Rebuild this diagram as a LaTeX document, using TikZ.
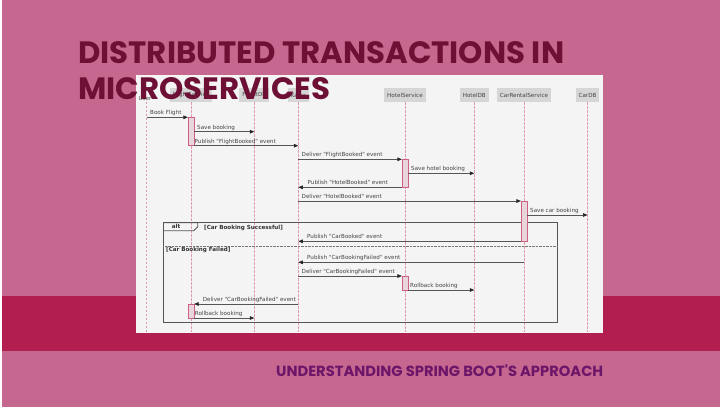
\documentclass[tikz,border=0pt]{standalone}
\usepackage{fontspec}
\usepackage{graphicx}
\usetikzlibrary{arrows.meta}
\newfontfamily\poppins{Poppins}
\newfontfamily\dv{DejaVu Sans}
\definecolor{bgpink}{HTML}{C5678E}
\definecolor{bandc}{HTML}{B21E50}
\definecolor{panelc}{HTML}{F4F4F4}
\definecolor{titlec}{HTML}{6E0F36}
\definecolor{subc}{HTML}{6C1569}
\definecolor{partc}{HTML}{D6D6D6}
\definecolor{lifec}{HTML}{E09AAE}
\definecolor{actfill}{HTML}{E8D6DC}
\definecolor{actdraw}{HTML}{D0607F}
\definecolor{msgc}{HTML}{555555}
\definecolor{labc}{HTML}{444444}
\tikzset{
  part/.style={fill=partc, draw=none, minimum height=14pt, inner xsep=3pt, inner ysep=0pt, font=\dv\fontsize{5.6}{6}\selectfont, text=labc},
  life/.style={lifec, line width=0.5pt, dash pattern=on 2.4pt off 1.6pt},
  act/.style={fill=actfill, draw=actdraw, line width=0.6pt, minimum width=5.6pt, inner sep=0pt},
  msg/.style={msgc, line width=0.7pt, -{Triangle[length=4.5pt,width=3.6pt,fill=black!85,color=black!85]}},
  lab/.style={anchor=base west, inner sep=0pt, font=\dv\fontsize{5.6}{6}\selectfont, text=labc},
  blab/.style={anchor=base west, inner sep=0pt, font=\dv\bfseries\fontsize{5.6}{6}\selectfont, text=black!80},
  framec/.style={draw=msgc, line width=0.9pt},
}
\begin{document}
\begin{tikzpicture}[x=1pt,y=-1pt]
\useasboundingbox (0,0) rectangle (720,408);
% background
\fill[white] (0,0) rectangle (720,408);
\fill[bgpink] (1.6,0) rectangle (720,406.6);
\fill[bandc] (1.6,295.7) rectangle (720,351);
% panel
\fill[panelc] (136,75) rectangle (603.3,333.3);
% participants
\node[part] (fs) at (191,95) {FlightService};
\node[part] (fdb) at (254.3,95) {FlightDB};
\node[part] (kf) at (298.3,95) {Kafka};
\node[part] (hs) at (405,95) {HotelService};
\node[part] (hdb) at (474.3,95) {HotelDB};
\node[part] (cr) at (524,95) {CarRentalService};
\node[part] (cdb) at (587.5,95) {CarDB};
\node[part, fill=none, minimum height=6pt] (us) at (145,98.8) {User};
% lifelines
\foreach \p in {us,fs,fdb,kf,hs,hdb,cr,cdb}{
  \coordinate (\p-end) at (\p.south |- 0,331.5);
}
\draw[life] (us.south -| 146.7,0) -- (us-end -| 146.7,0);
\foreach \p in {fs,fdb,kf,hs,hdb,cr,cdb}{
  \draw[life] (\p.south) -- (\p-end);
}
% alt frame
\node[inner sep=0pt, minimum width=0pt] (frnw) at (163.3,222.7) {};
\node[inner sep=0pt] (frse) at (557.7,322.3) {};
\draw[framec] (frnw) rectangle (frse);
\draw[framec] (163.3,222.7) -- (197.7,222.7) -- (197.7,226.7) -- (193.7,230.7) -- (163.3,230.7);
\node[blab, anchor=center] (altl) at (176,226.9) {alt};
\node[blab] (g1) at (204,229) {[Car Booking Successful]};
\draw[msgc!80, line width=0.6pt, dash pattern=on 0.6pt off 0.8pt] (163.3,246) -- (557.7,246);
\node[blab] (g2) at (166,251.2) {[Car Booking Failed]};
% activations
\node[act, minimum height=28.4pt] (a1) at (191,131.5) {};
\node[act, minimum height=28pt] (a2) at (405,173.3) {};
\node[act, minimum height=40.7pt] (a3) at (524,221.35) {};
\node[act, minimum height=14pt] (a4) at (405,283) {};
\node[act, minimum height=14pt] (a5) at (191,311) {};
% messages
\draw[msg] (146.7,117.3) -- (a1.west |- 0,117.3);
\node[lab] (l1) at (150,114.9) {Book Flight};
\draw[msg] (a1.east |- 0,131.7) -- (fdb |- 0,131.7);
\node[lab] (l2) at (197,129.3) {Save booking};
\draw[msg] (a1.east |- 0,145.7) -- (kf |- 0,145.7);
\node[lab] (l3) at (194.5,143.3) {Publish "FlightBooked" event};
\draw[msg] (kf |- 0,159.3) -- (a2.west |- 0,159.3);
\node[lab] (l4) at (301.5,156.9) {Deliver "FlightBooked" event};
\draw[msg] (a2.east |- 0,173.3) -- (hdb |- 0,173.3);
\node[lab] (l5) at (411,170.9) {Save hotel booking};
\draw[msg] (a2.west |- 0,187.3) -- (kf |- 0,187.3);
\node[lab] (l6) at (307.5,184.9) {Publish "HotelBooked" event};
\draw[msg] (kf |- 0,201) -- (a3.west |- 0,201);
\node[lab] (l7) at (301.5,198.6) {Deliver "HotelBooked" event};
\draw[msg] (a3.east |- 0,215) -- (cdb |- 0,215);
\node[lab] (l8) at (530,212.6) {Save car booking};
\draw[msg] (a3.west |- 0,241.3) -- (kf |- 0,241.3);
\node[lab] (l9) at (307,238.9) {Publish "CarBooked" event};
\draw[msg] (cr |- 0,262.3) -- (kf |- 0,262.3);
\node[lab] (l10) at (307,259.9) {Publish "CarBookingFailed" event};
\draw[msg] (kf |- 0,276) -- (a4.west |- 0,276);
\node[lab] (l11) at (301.5,273.6) {Deliver "CarBookingFailed" event};
\draw[msg] (a4.east |- 0,290) -- (hdb |- 0,290);
\node[lab] (l12) at (410,287.6) {Rollback booking};
\draw[msg] (kf |- 0,304) -- (a5.east |- 0,304);
\node[lab] (l13) at (202.7,301.6) {Deliver "CarBookingFailed" event};
\draw[msg] (a5.east |- 0,318) -- (fdb |- 0,318);
\node[lab] (l14) at (194.7,315.6) {Rollback booking};
% titles
\node[anchor=base west, inner sep=0pt, text=titlec] (t1) at (78,63.5)
  {\resizebox{486pt}{!}{\poppins\bfseries\fontsize{28}{30}\selectfont DISTRIBUTED TRANSACTIONS IN}};
\node[anchor=base west, inner sep=0pt, text=titlec] (t2) at (78,99)
  {\resizebox{252pt}{!}{\poppins\bfseries\fontsize{28}{30}\selectfont MICROSERVICES}};
\node[anchor=base west, inner sep=0pt, text=subc] (st) at (276,376.5)
  {\resizebox{327pt}{!}{\poppins\bfseries\fontsize{16}{18}\selectfont UNDERSTANDING SPRING BOOT'S APPROACH}};
\end{tikzpicture}
\end{document}
